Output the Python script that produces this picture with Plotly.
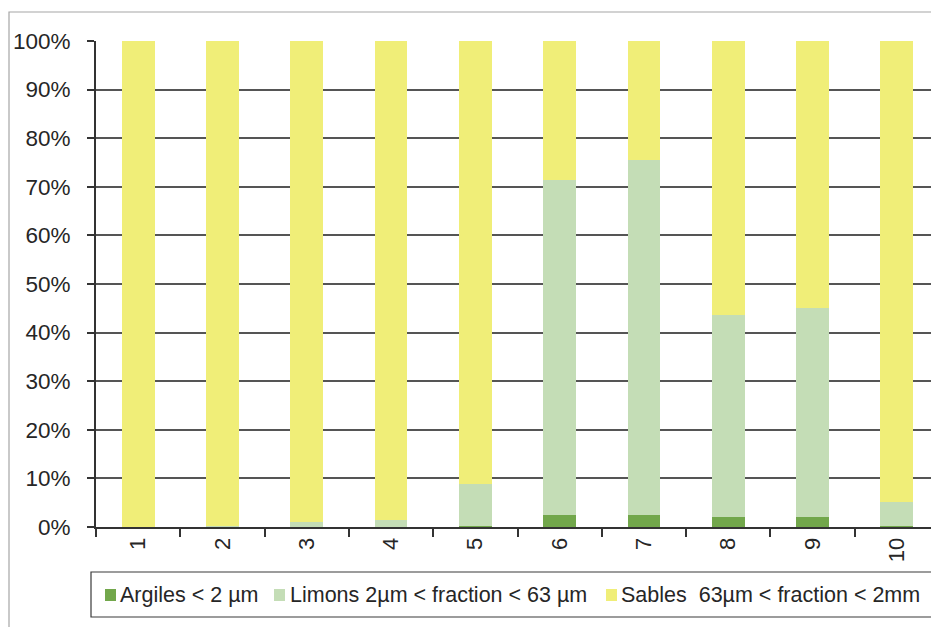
import plotly.graph_objects as go

# Sample numbers along the x axis
categories = ["1", "2", "3", "4", "5", "6", "7", "8", "9", "10"]

# Particle-size fractions (% of sample)
argiles = [0.0, 0.1, 0.1, 0.1, 0.3, 2.5, 2.5, 2.0, 2.0, 0.3]
limons = [0.0, 0.1, 1.0, 1.3, 8.5, 68.9, 73.1, 41.6, 43.0, 4.8]
sables = [100.0, 99.8, 98.9, 98.6, 91.2, 28.6, 24.4, 56.4, 55.0, 94.9]

series_names = [
    "Argiles < 2 µm",
    "Limons 2µm < fraction < 63 µm",
    "Sables  63µm < fraction < 2mm",
]
series_colors = ["#72a74b", "#c4ddb6", "#f0ee78"]

W, H = 931, 627
ML, MR, MT, MB = 96, 0, 41, 100
PW = W - ML - MR
PH = H - MT - MB


def px(x):
    return (x - ML) / PW


def py(y):
    return (H - MB - y) / PH


FONT = "Liberation Sans, Arial, sans-serif"
TEXT = "#262626"

fig = go.Figure()
for name, vals, col in zip(series_names, [argiles, limons, sables], series_colors):
    fig.add_trace(go.Bar(
        x=categories, y=vals, name=name,
        marker=dict(color=col, line=dict(width=0)),
        showlegend=False,
    ))

# category pitch in pixels, used to crop the last band at the page edge
pitch = 84.3
x_end = -0.5 + PW / pitch

fig.update_layout(
    width=W, height=H,
    margin=dict(l=ML, r=MR, t=MT, b=MB, pad=0),
    barmode="stack",
    bargap=0.61,
    plot_bgcolor="white",
    paper_bgcolor="white",
    font=dict(family=FONT, color=TEXT, size=22),
    xaxis=dict(
        type="category",
        range=[-0.5, x_end],
        tickson="boundaries",
        ticks="outside", ticklen=8, tickwidth=1.5, tickcolor="#333333",
        tickangle=-90,
        tickfont=dict(size=22, color=TEXT, family=FONT),
        showline=True, linecolor="#333333", linewidth=2,
        showgrid=False, zeroline=False,
    ),
    yaxis=dict(
        range=[0, 100],
        dtick=10,
        ticksuffix="%",
        ticks="outside", ticklen=7, tickwidth=1.5, tickcolor="#333333",
        ticklabelstandoff=12,
        tickfont=dict(size=22.5, color=TEXT, family=FONT),
        showline=True, linecolor="#333333", linewidth=2,
        showgrid=True, gridcolor="#555555", gridwidth=1.6,
        zeroline=False,
    ),
)

shapes = []
# outer chart frame
shapes.append(dict(
    type="rect", xref="paper", yref="paper",
    x0=px(9), x1=px(960), y0=py(12), y1=py(660),
    line=dict(color="#a6a6a6", width=1.2), fillcolor="rgba(0,0,0,0)",
    layer="below",
))
# legend box
shapes.append(dict(
    type="rect", xref="paper", yref="paper",
    x0=px(91), x1=px(960), y0=py(617), y1=py(572),
    line=dict(color="#3a3a3a", width=1.2), fillcolor="white",
))

annotations = []
swatch_x = [105, 274, 606]
text_x = [119, 289, 620]
legend_y = 595
for name, col, sx, tx in zip(series_names, series_colors, swatch_x, text_x):
    shapes.append(dict(
        type="rect", xref="paper", yref="paper",
        x0=px(sx), x1=px(sx + 11), y0=py(legend_y + 6), y1=py(legend_y - 6),
        line=dict(width=0), fillcolor=col,
    ))
    annotations.append(dict(
        text=name, xref="paper", yref="paper",
        x=px(tx), y=py(legend_y), xanchor="left", yanchor="middle",
        showarrow=False, borderpad=0,
        font=dict(size=21.5, color=TEXT, family=FONT),
    ))

fig.update_layout(shapes=shapes, annotations=annotations)

fig.write_html("out.html")
